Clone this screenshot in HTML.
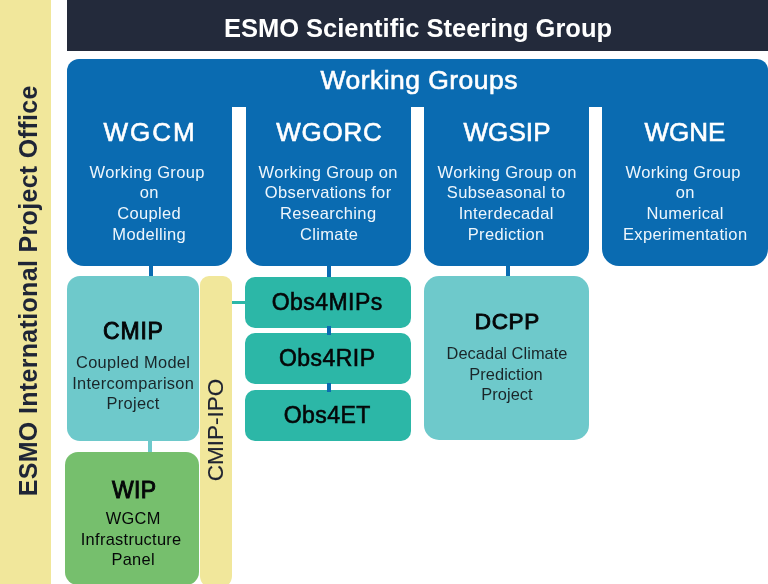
<!DOCTYPE html>
<html><head><meta charset="utf-8"><style>
html,body{margin:0;padding:0;}
body{width:768px;height:584px;overflow:hidden;position:relative;background:#ffffff;font-family:"Liberation Sans", sans-serif;}
.t{will-change:transform;}
</style></head><body>
<div style="position:absolute;left:0px;top:0px;width:51.00px;height:584.00px;background:#f1e79b;border-radius:0;"></div>
<div style="position:absolute;left:67px;top:-20px;width:733.00px;height:71.00px;background:#232a3b;border-radius:0;"></div>
<div class="t" style="position:absolute;left:67.50px;top:13.16px;width:700px;text-align:center;font-size:25.5px;line-height:30px;color:#ffffff;font-weight:bold;letter-spacing:0px;text-indent:0px;white-space:nowrap;">ESMO Scientific Steering Group</div>
<div style="position:absolute;left:67px;top:59px;width:700.50px;height:47.60px;background:#0a6bb1;border-radius:12px 11px 0 0;"></div>
<div class="t" style="position:absolute;left:69.20px;top:64.62px;width:700px;text-align:center;font-size:26.5px;line-height:30px;color:#ffffff;font-weight:normal;letter-spacing:0.45px;text-indent:0.45px;white-space:nowrap;-webkit-text-stroke:0.6px #ffffff;">Working Groups</div>
<div style="position:absolute;left:67px;top:106px;width:165.00px;height:159.70px;background:#0a6bb1;border-radius:0 0 17px 17px;"></div>
<div class="t" style="position:absolute;left:-201.20px;top:117.39px;width:700px;text-align:center;font-size:26px;line-height:30px;color:#ffffff;font-weight:normal;letter-spacing:2.0px;text-indent:2.0px;white-space:nowrap;-webkit-text-stroke:0.6px #ffffff;">WGCM</div>
<div class="t" style="position:absolute;left:-203.00px;top:161.51px;width:700px;text-align:center;font-size:16.5px;line-height:20.95px;color:#eef6fc;font-weight:normal;letter-spacing:0.35px;text-indent:0.35px;white-space:nowrap;">Working Group</div>
<div class="t" style="position:absolute;left:-200.80px;top:182.46px;width:700px;text-align:center;font-size:16.5px;line-height:20.95px;color:#eef6fc;font-weight:normal;letter-spacing:0.35px;text-indent:0.35px;white-space:nowrap;">on</div>
<div class="t" style="position:absolute;left:-200.80px;top:203.41px;width:700px;text-align:center;font-size:16.5px;line-height:20.95px;color:#eef6fc;font-weight:normal;letter-spacing:0.35px;text-indent:0.35px;white-space:nowrap;">Coupled</div>
<div class="t" style="position:absolute;left:-200.80px;top:224.36px;width:700px;text-align:center;font-size:16.5px;line-height:20.95px;color:#eef6fc;font-weight:normal;letter-spacing:0.35px;text-indent:0.35px;white-space:nowrap;">Modelling</div>
<div style="position:absolute;left:148.5px;top:262px;width:4.00px;height:18.00px;background:#0a6bb1;border-radius:0;"></div>
<div style="position:absolute;left:245.5px;top:106px;width:165.50px;height:159.70px;background:#0a6bb1;border-radius:0 0 17px 17px;"></div>
<div class="t" style="position:absolute;left:-21.20px;top:117.39px;width:700px;text-align:center;font-size:26px;line-height:30px;color:#ffffff;font-weight:normal;letter-spacing:0.7px;text-indent:0.7px;white-space:nowrap;-webkit-text-stroke:0.6px #ffffff;">WGORC</div>
<div class="t" style="position:absolute;left:-21.90px;top:161.51px;width:700px;text-align:center;font-size:16.5px;line-height:20.95px;color:#eef6fc;font-weight:normal;letter-spacing:0.35px;text-indent:0.35px;white-space:nowrap;">Working Group on</div>
<div class="t" style="position:absolute;left:-22.20px;top:182.46px;width:700px;text-align:center;font-size:16.5px;line-height:20.95px;color:#eef6fc;font-weight:normal;letter-spacing:0.35px;text-indent:0.35px;white-space:nowrap;">Observations for</div>
<div class="t" style="position:absolute;left:-21.90px;top:203.41px;width:700px;text-align:center;font-size:16.5px;line-height:20.95px;color:#eef6fc;font-weight:normal;letter-spacing:0.35px;text-indent:0.35px;white-space:nowrap;">Researching</div>
<div class="t" style="position:absolute;left:-21.50px;top:224.36px;width:700px;text-align:center;font-size:16.5px;line-height:20.95px;color:#eef6fc;font-weight:normal;letter-spacing:0.35px;text-indent:0.35px;white-space:nowrap;">Climate</div>
<div style="position:absolute;left:327.0px;top:262px;width:4.00px;height:18.00px;background:#0a6bb1;border-radius:0;"></div>
<div style="position:absolute;left:424px;top:106px;width:165.00px;height:159.70px;background:#0a6bb1;border-radius:0 0 17px 17px;"></div>
<div class="t" style="position:absolute;left:156.50px;top:117.39px;width:700px;text-align:center;font-size:26px;line-height:30px;color:#ffffff;font-weight:normal;letter-spacing:0.1px;text-indent:0.1px;white-space:nowrap;-webkit-text-stroke:0.6px #ffffff;">WGSIP</div>
<div class="t" style="position:absolute;left:156.65px;top:161.51px;width:700px;text-align:center;font-size:16.5px;line-height:20.95px;color:#eef6fc;font-weight:normal;letter-spacing:0.35px;text-indent:0.35px;white-space:nowrap;">Working Group on</div>
<div class="t" style="position:absolute;left:156.30px;top:182.46px;width:700px;text-align:center;font-size:16.5px;line-height:20.95px;color:#eef6fc;font-weight:normal;letter-spacing:0.35px;text-indent:0.35px;white-space:nowrap;">Subseasonal to</div>
<div class="t" style="position:absolute;left:156.45px;top:203.41px;width:700px;text-align:center;font-size:16.5px;line-height:20.95px;color:#eef6fc;font-weight:normal;letter-spacing:0.35px;text-indent:0.35px;white-space:nowrap;">Interdecadal</div>
<div class="t" style="position:absolute;left:156.40px;top:224.36px;width:700px;text-align:center;font-size:16.5px;line-height:20.95px;color:#eef6fc;font-weight:normal;letter-spacing:0.35px;text-indent:0.35px;white-space:nowrap;">Prediction</div>
<div style="position:absolute;left:505.5px;top:262px;width:4.00px;height:18.00px;background:#0a6bb1;border-radius:0;"></div>
<div style="position:absolute;left:602px;top:106px;width:165.50px;height:159.70px;background:#0a6bb1;border-radius:0 0 17px 17px;"></div>
<div class="t" style="position:absolute;left:334.90px;top:117.39px;width:700px;text-align:center;font-size:26px;line-height:30px;color:#ffffff;font-weight:normal;letter-spacing:0.0px;text-indent:0.0px;white-space:nowrap;-webkit-text-stroke:0.6px #ffffff;">WGNE</div>
<div class="t" style="position:absolute;left:333.00px;top:161.51px;width:700px;text-align:center;font-size:16.5px;line-height:20.95px;color:#eef6fc;font-weight:normal;letter-spacing:0.35px;text-indent:0.35px;white-space:nowrap;">Working Group</div>
<div class="t" style="position:absolute;left:334.70px;top:182.46px;width:700px;text-align:center;font-size:16.5px;line-height:20.95px;color:#eef6fc;font-weight:normal;letter-spacing:0.35px;text-indent:0.35px;white-space:nowrap;">on</div>
<div class="t" style="position:absolute;left:334.85px;top:203.41px;width:700px;text-align:center;font-size:16.5px;line-height:20.95px;color:#eef6fc;font-weight:normal;letter-spacing:0.35px;text-indent:0.35px;white-space:nowrap;">Numerical</div>
<div class="t" style="position:absolute;left:334.90px;top:224.36px;width:700px;text-align:center;font-size:16.5px;line-height:20.95px;color:#eef6fc;font-weight:normal;letter-spacing:0.35px;text-indent:0.35px;white-space:nowrap;">Experimentation</div>
<div style="position:absolute;left:67px;top:276.2px;width:132.00px;height:164.80px;background:#6ec9cb;border-radius:13px;"></div>
<div class="t" style="position:absolute;left:-216.60px;top:317.83px;width:700px;text-align:center;font-size:23px;line-height:26px;color:#050708;font-weight:normal;letter-spacing:0.8px;text-indent:0.8px;white-space:nowrap;-webkit-text-stroke:0.9px #050708;">CMIP</div>
<div class="t" style="position:absolute;left:-216.90px;top:351.69px;width:700px;text-align:center;font-size:16.4px;line-height:20.85px;color:#1a2629;font-weight:normal;letter-spacing:0.3px;text-indent:0.3px;white-space:nowrap;">Coupled Model</div>
<div class="t" style="position:absolute;left:-217.05px;top:372.54px;width:700px;text-align:center;font-size:16.4px;line-height:20.85px;color:#1a2629;font-weight:normal;letter-spacing:0.3px;text-indent:0.3px;white-space:nowrap;">Intercomparison</div>
<div class="t" style="position:absolute;left:-217.00px;top:393.39px;width:700px;text-align:center;font-size:16.4px;line-height:20.85px;color:#1a2629;font-weight:normal;letter-spacing:0.3px;text-indent:0.3px;white-space:nowrap;">Project</div>
<div style="position:absolute;left:148px;top:438px;width:4.00px;height:17.00px;background:#6ec9cb;border-radius:0;"></div>
<div style="position:absolute;left:65px;top:451.7px;width:134.00px;height:133.30px;background:#76bf6d;border-radius:13px;"></div>
<div class="t" style="position:absolute;left:-216.35px;top:476.73px;width:700px;text-align:center;font-size:23px;line-height:26px;color:#050708;font-weight:normal;letter-spacing:0.3px;text-indent:0.3px;white-space:nowrap;-webkit-text-stroke:0.9px #050708;">WIP</div>
<div class="t" style="position:absolute;left:-217.15px;top:507.82px;width:700px;text-align:center;font-size:16.4px;line-height:20.8px;color:#050708;font-weight:normal;letter-spacing:0.3px;text-indent:0.3px;white-space:nowrap;">WGCM</div>
<div class="t" style="position:absolute;left:-218.80px;top:528.62px;width:700px;text-align:center;font-size:16.4px;line-height:20.8px;color:#050708;font-weight:normal;letter-spacing:0.3px;text-indent:0.3px;white-space:nowrap;">Infrastructure</div>
<div class="t" style="position:absolute;left:-216.95px;top:549.42px;width:700px;text-align:center;font-size:16.4px;line-height:20.8px;color:#050708;font-weight:normal;letter-spacing:0.3px;text-indent:0.3px;white-space:nowrap;">Panel</div>
<div style="position:absolute;left:200px;top:276.4px;width:32.00px;height:311.60px;background:#f1e79b;border-radius:9px 9px 12px 12px;"></div>
<div style="position:absolute;left:216.3px;top:430px;width:0;height:0;"><div class="t" style="position:absolute;left:-100px;top:-15px;width:200px;height:30px;line-height:30px;text-align:center;transform:rotate(-90deg);font-size:22.5px;letter-spacing:0px;text-indent:0px;-webkit-text-stroke:0.2px #1f2330;color:#1f2330;white-space:nowrap">CMIP-IPO</div></div>
<div style="position:absolute;left:232px;top:300.7px;width:15.00px;height:3.40px;background:#2cb7a7;border-radius:0;"></div>
<div style="position:absolute;left:245px;top:276.8px;width:165.50px;height:50.80px;background:#2cb7a7;border-radius:10px;"></div>
<div class="t" style="position:absolute;left:-23.25px;top:288.93px;width:700px;text-align:center;font-size:23px;line-height:26px;color:#050708;font-weight:normal;letter-spacing:0.45px;text-indent:0.45px;white-space:nowrap;-webkit-text-stroke:0.6px #050708;">Obs4MIPs</div>
<div style="position:absolute;left:245px;top:333.3px;width:165.50px;height:50.90px;background:#2cb7a7;border-radius:10px;"></div>
<div class="t" style="position:absolute;left:-23.25px;top:345.43px;width:700px;text-align:center;font-size:23px;line-height:26px;color:#050708;font-weight:normal;letter-spacing:0.45px;text-indent:0.45px;white-space:nowrap;-webkit-text-stroke:0.6px #050708;">Obs4RIP</div>
<div style="position:absolute;left:245px;top:390px;width:165.50px;height:50.50px;background:#2cb7a7;border-radius:10px;"></div>
<div class="t" style="position:absolute;left:-23.25px;top:402.13px;width:700px;text-align:center;font-size:23px;line-height:26px;color:#050708;font-weight:normal;letter-spacing:0.45px;text-indent:0.45px;white-space:nowrap;-webkit-text-stroke:0.6px #050708;">Obs4ET</div>
<div style="position:absolute;left:327px;top:326px;width:4.00px;height:9.00px;background:#0a6bb1;border-radius:0;"></div>
<div style="position:absolute;left:327px;top:383px;width:4.00px;height:9.00px;background:#0a6bb1;border-radius:0;"></div>
<div style="position:absolute;left:424px;top:276.1px;width:165.30px;height:163.60px;background:#6ec9cb;border-radius:15px;"></div>
<div class="t" style="position:absolute;left:157.15px;top:308.70px;width:700px;text-align:center;font-size:22.5px;line-height:26px;color:#050708;font-weight:normal;letter-spacing:0.7px;text-indent:0.7px;white-space:nowrap;-webkit-text-stroke:0.9px #050708;">DCPP</div>
<div class="t" style="position:absolute;left:156.50px;top:343.32px;width:700px;text-align:center;font-size:16.4px;line-height:20.4px;color:#1a2629;font-weight:normal;letter-spacing:0.05px;text-indent:0.05px;white-space:nowrap;">Decadal Climate</div>
<div class="t" style="position:absolute;left:156.45px;top:363.72px;width:700px;text-align:center;font-size:16.4px;line-height:20.4px;color:#1a2629;font-weight:normal;letter-spacing:0.05px;text-indent:0.05px;white-space:nowrap;">Prediction</div>
<div class="t" style="position:absolute;left:156.50px;top:384.12px;width:700px;text-align:center;font-size:16.4px;line-height:20.4px;color:#1a2629;font-weight:normal;letter-spacing:0.05px;text-indent:0.05px;white-space:nowrap;">Project</div>
<div style="position:absolute;left:27.8px;top:291px;width:0;height:0;"><div class="t" style="position:absolute;left:-250px;top:-20px;width:500px;height:40px;line-height:40px;text-align:center;transform:rotate(-90deg);font-size:25px;letter-spacing:0.33px;text-indent:0.33px;font-weight:bold;color:#1f2536;white-space:nowrap">ESMO International Project Office</div></div>
</body></html>
